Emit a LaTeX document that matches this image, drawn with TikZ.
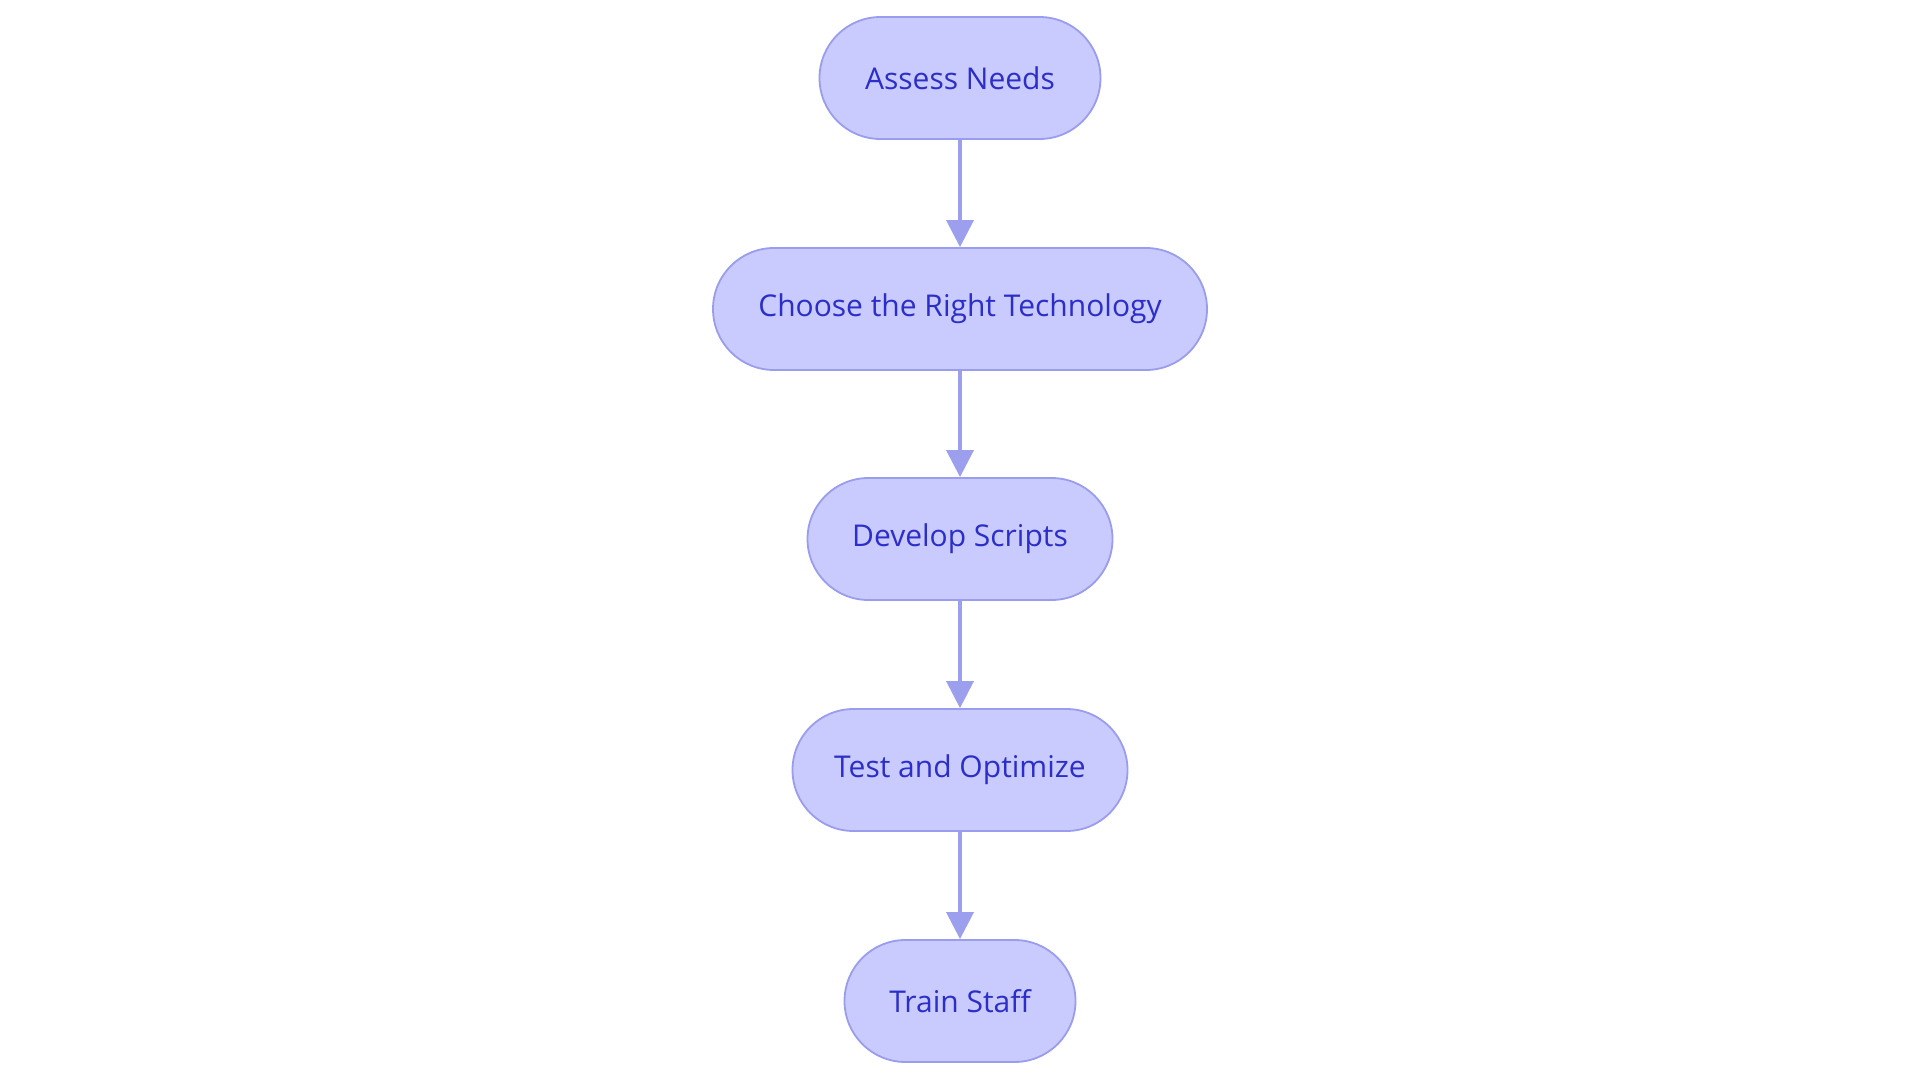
\documentclass[tikz,border=0pt]{standalone}
\usepackage{fontspec}
\setmainfont{Open Sans}
\usetikzlibrary{arrows.meta}
\definecolor{nodefill}{HTML}{C9CAFD}
\definecolor{nodeline}{HTML}{9A9CEE}
\definecolor{nodetext}{HTML}{2B2EC8}
\definecolor{arrowcol}{HTML}{9B9FEE}
\begin{document}
\begin{tikzpicture}[x=1pt,y=-1pt,
  stepbox/.style={draw=nodeline,fill=nodefill,line width=1.8pt,rounded corners=61pt,
    minimum height=122pt,inner sep=0pt,text=nodetext,font=\fontsize{30}{34}\selectfont},
  flow/.style={draw=arrowcol,line width=3.5pt,-{Triangle[width=27pt,length=27pt]}}]
\useasboundingbox[fill=white] (0,0) rectangle (1920,1083);
\node[stepbox,minimum width=281pt] (a) at (960,78) {Assess Needs};
\node[stepbox,minimum width=494pt] (b) at (960,309) {Choose the Right Technology};
\node[stepbox,minimum width=305pt] (c) at (960,539) {Develop Scripts};
\node[stepbox,minimum width=335pt] (d) at (960,770) {Test and Optimize};
\node[stepbox,minimum width=231pt] (e) at (960,1001) {Train Staff};
\draw[flow] (a) -- (b);
\draw[flow] (b) -- (c);
\draw[flow] (c) -- (d);
\draw[flow] (d) -- (e);
\end{tikzpicture}
\end{document}
